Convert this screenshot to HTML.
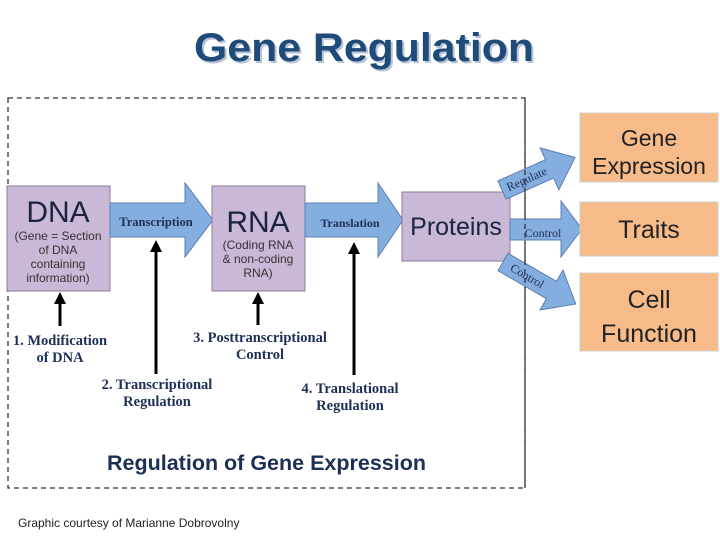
<!DOCTYPE html>
<html><head><meta charset="utf-8"><style>
html,body{margin:0;padding:0;background:#fff;}
svg{display:block;}
</style></head><body>
<svg width="720" height="540" viewBox="0 0 720 540" xmlns="http://www.w3.org/2000/svg">
<defs>
<marker id="ah" markerWidth="4" markerHeight="4" refX="2" refY="2" orient="auto" markerUnits="strokeWidth"><path d="M0,0 L4,2 L0,4 Z" fill="#000"/></marker>
</defs>
<text x="364" y="61" text-anchor="middle" font-family="Liberation Sans, sans-serif" font-weight="bold" font-size="40" fill="#b8c4d4" transform="translate(2,2)" textLength="340" lengthAdjust="spacingAndGlyphs">Gene Regulation</text>
<text x="364" y="61" text-anchor="middle" font-family="Liberation Sans, sans-serif" font-weight="bold" font-size="40" fill="#1f4b7a" textLength="340" lengthAdjust="spacingAndGlyphs">Gene Regulation</text>

<rect x="8" y="98" width="517" height="390" fill="none" stroke="#333" stroke-width="1.3" stroke-dasharray="5,4"/>

<rect x="7" y="186" width="103" height="105" fill="#c9b8d6" stroke="#8a7a99" stroke-width="1"/>
<text x="58" y="222" text-anchor="middle" font-family="Liberation Sans, sans-serif" font-size="30" fill="#1c2340">DNA</text>
<g font-family="Liberation Sans, sans-serif" font-size="12" fill="#333" text-anchor="middle">
<text x="58" y="240">(Gene = Section</text><text x="58" y="254">of DNA</text><text x="58" y="268">containing</text><text x="58" y="282">information)</text>
</g>

<path d="M110,203 H185 V183 L213,220 L185,257 V237 H110 Z" fill="#84aee0" stroke="#5a7fb0" stroke-width="1"/>
<text x="156" y="226" text-anchor="middle" font-family="Liberation Serif, serif" font-weight="bold" font-size="12.5" fill="#1c2f55">Transcription</text>

<rect x="212" y="186" width="93" height="105" fill="#c9b8d6" stroke="#8a7a99" stroke-width="1"/>
<text x="258" y="232" text-anchor="middle" font-family="Liberation Sans, sans-serif" font-size="30" fill="#1c2340">RNA</text>
<g font-family="Liberation Sans, sans-serif" font-size="12" fill="#333" text-anchor="middle">
<text x="258" y="249">(Coding RNA</text><text x="258" y="263">&amp; non-coding</text><text x="258" y="277">RNA)</text>
</g>

<path d="M305,203 H378 V183 L403,220 L378,257 V237 H305 Z" fill="#84aee0" stroke="#5a7fb0" stroke-width="1"/>
<text x="350" y="227" text-anchor="middle" font-family="Liberation Serif, serif" font-weight="bold" font-size="12" fill="#1c2f55">Translation</text>

<rect x="402" y="192" width="108" height="69" fill="#c9b8d6" stroke="#8a7a99" stroke-width="1"/>
<text x="456" y="235" text-anchor="middle" font-family="Liberation Sans, sans-serif" font-size="25" fill="#1c2340">Proteins</text>

<g transform="translate(502,190) rotate(-24)">
<path d="M0,-10 H52 V-23 L80,0 L52,23 V10 H0 Z" fill="#84aee0" stroke="#5a7fb0" stroke-width="1"/>
<text x="27" y="4" text-anchor="middle" font-family="Liberation Serif, serif" font-size="12" fill="#1c2f55">Regulate</text>
</g>
<path d="M510,219 H561 V201 L582,229 L561,257 V240 H510 Z" fill="#84aee0" stroke="#5a7fb0" stroke-width="1"/>
<text x="543" y="237" text-anchor="middle" font-family="Liberation Serif, serif" font-size="12" fill="#1c2f55">Control</text>
<g transform="translate(503,262) rotate(30)">
<path d="M0,-10 H56 V-23 L84,0 L56,23 V10 H0 Z" fill="#84aee0" stroke="#5a7fb0" stroke-width="1"/>
<text x="28" y="4" text-anchor="middle" font-family="Liberation Serif, serif" font-size="12" fill="#1c2f55">Control</text>
</g>

<line x1="525" y1="98" x2="525" y2="488" stroke="#333" stroke-width="1.3" stroke-dasharray="5,4"/>

<rect x="580" y="113" width="138" height="69" fill="#f7bb8a" stroke="#ccc" stroke-width="1"/>
<text x="649" y="146" text-anchor="middle" font-family="Liberation Sans, sans-serif" font-size="23" fill="#222">Gene</text>
<text x="649" y="174" text-anchor="middle" font-family="Liberation Sans, sans-serif" font-size="23" fill="#222">Expression</text>
<rect x="580" y="202" width="138" height="54" fill="#f7bb8a" stroke="#ccc" stroke-width="1"/>
<text x="649" y="238" text-anchor="middle" font-family="Liberation Sans, sans-serif" font-size="25" fill="#222">Traits</text>
<rect x="580" y="273" width="138" height="78" fill="#f7bb8a" stroke="#ccc" stroke-width="1"/>
<text x="649" y="308" text-anchor="middle" font-family="Liberation Sans, sans-serif" font-size="25" fill="#222">Cell</text>
<text x="649" y="342" text-anchor="middle" font-family="Liberation Sans, sans-serif" font-size="25" fill="#222">Function</text>

<g stroke="#000" stroke-width="3">
<line x1="60" y1="326" x2="60" y2="298" marker-end="url(#ah)"/>
<line x1="156" y1="374" x2="156" y2="246" marker-end="url(#ah)"/>
<line x1="258" y1="325" x2="258" y2="298" marker-end="url(#ah)"/>
<line x1="354" y1="375" x2="354" y2="248" marker-end="url(#ah)"/>
</g>
<g font-family="Liberation Serif, serif" font-weight="bold" font-size="14.5" fill="#1c2f55" text-anchor="middle">
<text x="60" y="345">1. Modification</text><text x="60" y="362">of DNA</text>
<text x="157" y="389">2. Transcriptional</text><text x="157" y="406">Regulation</text>
<text x="260" y="342">3. Posttranscriptional</text><text x="260" y="359">Control</text>
<text x="350" y="393">4. Translational</text><text x="350" y="410">Regulation</text>
</g>

<text x="107" y="470" font-family="Liberation Sans, sans-serif" font-weight="bold" font-size="21.5" fill="#1c2f55">Regulation of Gene Expression</text>
<text x="18" y="527" font-family="Liberation Sans, sans-serif" font-size="12" fill="#222">Graphic courtesy of Marianne Dobrovolny</text>
</svg>
</body></html>
